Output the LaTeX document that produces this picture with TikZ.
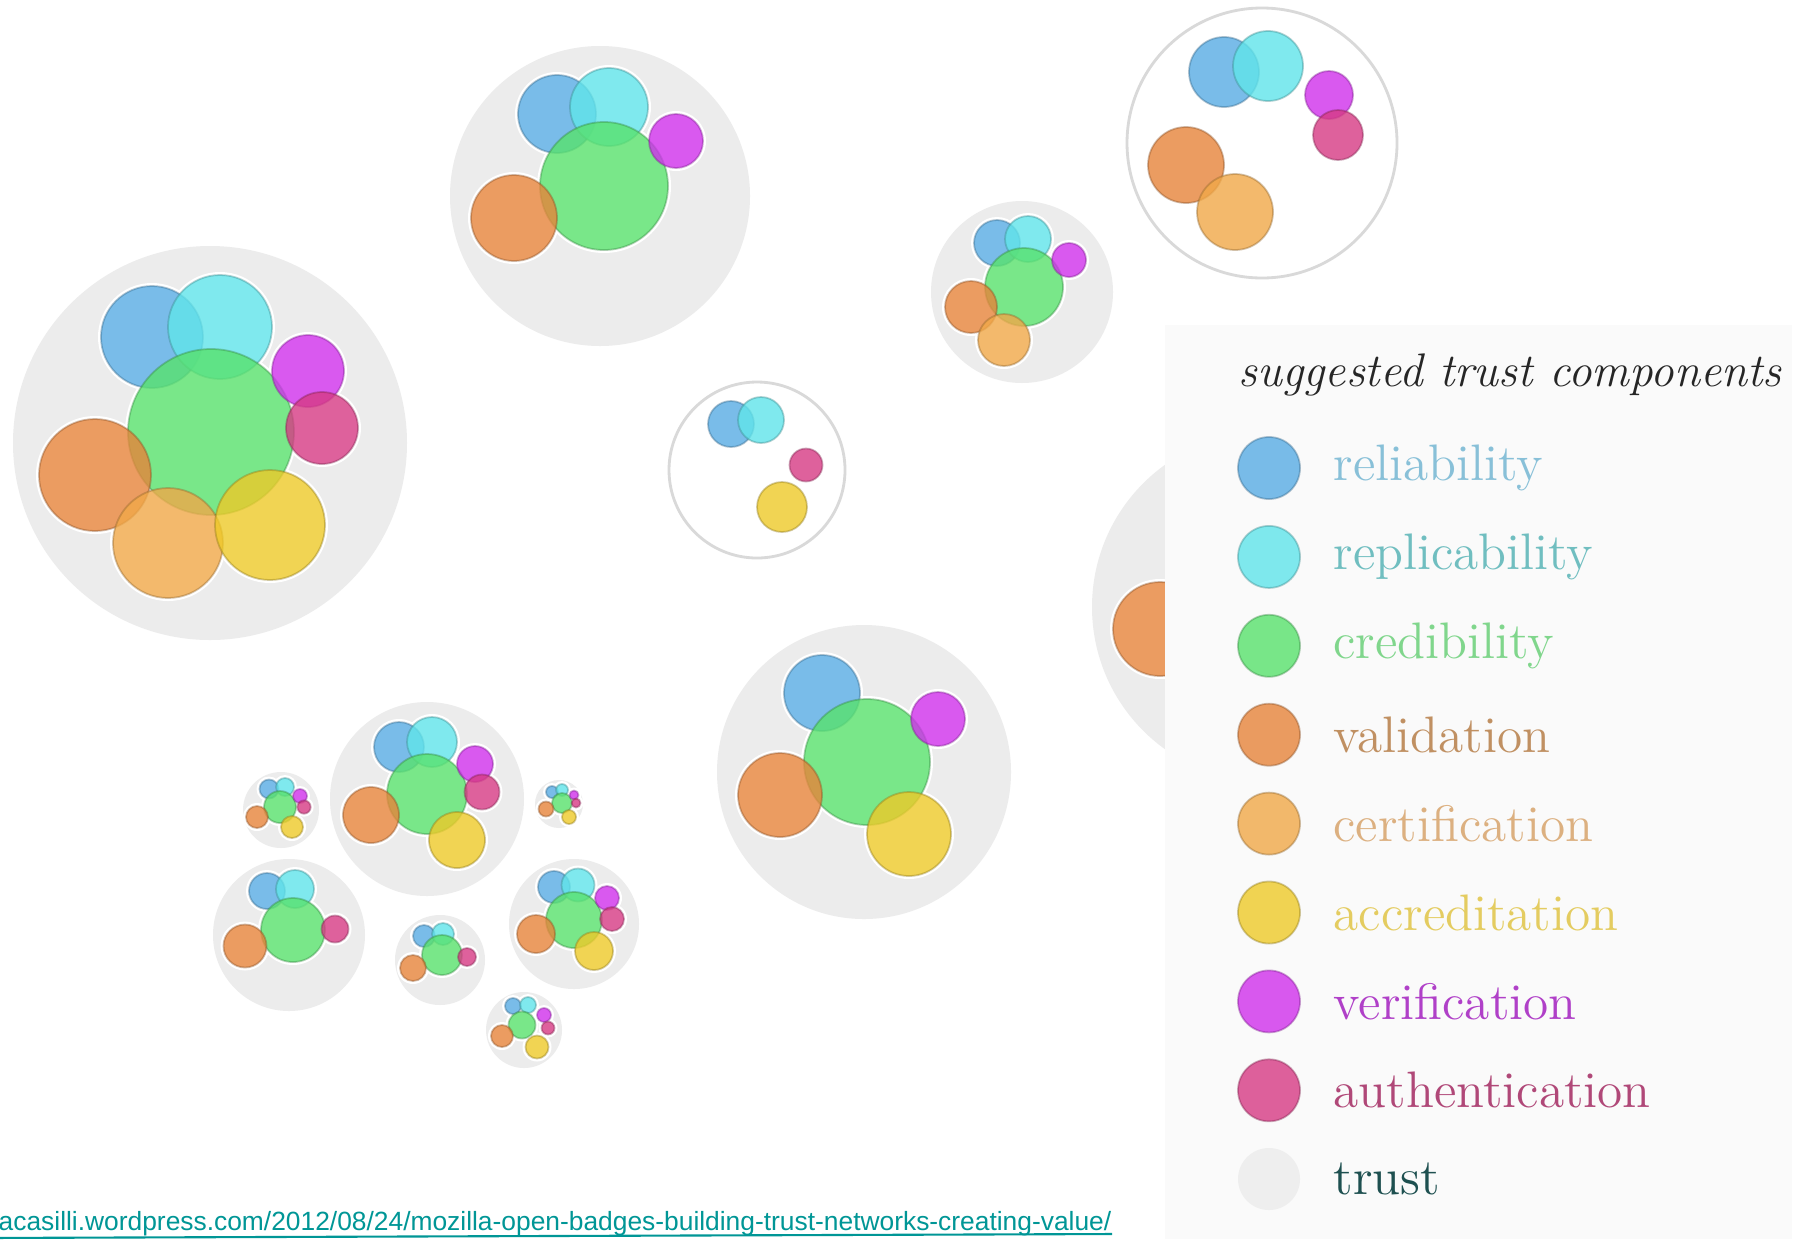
\documentclass[tikz,border=0pt]{standalone}
\usepackage{fontspec}
\newfontfamily\urlfont{Liberation Sans}
\usetikzlibrary{positioning}

% component colours
\definecolor{relC}{RGB}{88,172,228}
\definecolor{repC}{RGB}{96,228,234}
\definecolor{credC}{RGB}{88,226,108}
\definecolor{valC}{RGB}{230,132,58}
\definecolor{certC}{RGB}{240,168,72}
\definecolor{accC}{RGB}{238,202,40}
\definecolor{verC}{RGB}{208,48,236}
\definecolor{autC}{RGB}{214,58,132}
\definecolor{trustC}{RGB}{236,236,236}
% legend text colours
\definecolor{relT}{RGB}{136,192,216}
\definecolor{repT}{RGB}{112,190,192}
\definecolor{credT}{RGB}{128,214,140}
\definecolor{valT}{RGB}{192,144,98}
\definecolor{certT}{RGB}{220,176,128}
\definecolor{accT}{RGB}{228,204,96}
\definecolor{verT}{RGB}{176,64,200}
\definecolor{autT}{RGB}{176,72,120}
\definecolor{truT}{RGB}{30,80,80}
\definecolor{panelC}{RGB}{250,250,250}
\definecolor{linkC}{RGB}{0,150,150}

\tikzset{
  comp/.style={line width=0.5pt, fill opacity=0.8, draw opacity=0.4},
  rel/.style={comp, fill=relC, draw=relC!60!black},
  rep/.style={comp, fill=repC, draw=repC!60!black},
  cred/.style={comp, fill=credC, draw=credC!60!black},
  val/.style={comp, fill=valC, draw=valC!60!black},
  cert/.style={comp, fill=certC, draw=certC!60!black},
  accr/.style={comp, fill=accC, draw=accC!60!black},
  verif/.style={comp, fill=verC, draw=verC!60!black},
  auth/.style={comp, fill=autC, draw=autC!60!black},
  trustfull/.style={fill=trustC},
  trustempty/.style={fill=white, draw=black!15, line width=0.8pt},
}

% x / y / radius / style of every component circle
\def\comps{%
  152/337/51/rel, 220/327/52/rep, 211/432/83/cred, 308/371/36/verif,
  322/428/36/auth, 95/475/56/val, 168/543/55/cert, 270/525/55/accr,
  557/114/39/rel, 609/107/39/rep, 604/186/64/cred, 676/141/27/verif,
  514/218/43/val,
  997/243/23/rel, 1028/239/23/rep, 1024/287/39/cred, 1069/260/17/verif,
  971/307/26/val, 1004/340/26/cert,
  1224/72/35/rel, 1268/66/35/rep, 1329/95/24/verif, 1338/135/25/auth,
  1186/165/38/val, 1235/212/38/cert,
  731/424/23/rel, 761/420/23/rep, 806/465/16.5/auth, 782/507/25/accr,
  822/693/38/rel, 867/762/63/cred, 938/719/27/verif, 780/795/42/val,
  909/834/42/accr,
  1160/629/47/val,
  399/747/25/rel, 432/742/25/rep, 427/794/40/cred, 475/764/18/verif,
  482/792/17.5/auth, 371/815/28/val, 457/840/28/accr,
  269/789/9.5/rel, 285/787/9/rep, 280/807/16/cred, 300/796/7/verif,
  304/807/6.7/auth, 257/817/11/val, 292/827/11/accr,
  552/792/6/rel, 562/790/6/rep, 562/803/10/cred, 574/795/4.5/verif,
  576/803/4.5/auth, 546/809/7.5/val, 569/817/7/accr,
  267/891/18/rel, 295/889/19/rep, 293/930/32/cred, 335/929/13.5/auth,
  245/946/21.5/val,
  424/936/11/rel, 443/934/11/rep, 442/955/20/cred, 467/957/9/auth,
  413/968/13/val,
  554/887/16/rel, 578/885/16.5/rep, 574/920/28/cred, 607/898/12/verif,
  612/919/12/auth, 536/934/19/val, 594/951/19/accr,
  513/1006/8/rel, 528/1005/8/rep, 522/1025/13.5/cred, 544/1015/7/verif,
  548/1028/6.5/auth, 502/1036/11/val, 537/1047/11.5/accr%
}

\begin{document}
\begin{tikzpicture}[x=0.01cm, y=-0.01cm,
  legdot/.style={circle, minimum size=0.62cm, inner sep=0pt, fill opacity=0.85, line width=0.6pt},
  leglab/.style={inner sep=0pt, anchor=west, font=\fontsize{14.6}{16}\selectfont},
]
\useasboundingbox[fill=white] (0,0) rectangle (1798,1239);

% trust circles
\fill[trustfull] (210,443) circle (197);
\fill[trustfull] (600,196) circle (150);
\fill[trustfull] (1022,292) circle (91);
\draw[trustempty] (1262,143) circle (135);
\draw[trustempty] (757,470) circle (88);
\fill[trustfull] (864,772) circle (147);
\fill[trustfull] (1267,607) circle (175);
\fill[trustfull] (427,799) circle (97);
\fill[trustfull] (281,810) circle (38);
\fill[trustfull] (559,804) circle (24);
\fill[trustfull] (289,935) circle (76);
\fill[trustfull] (440,960) circle (45);
\fill[trustfull] (574,924) circle (65);
\fill[trustfull] (524,1030) circle (38);

% white halo round each component, then the components
\foreach \x/\y/\r/\s in \comps
  \fill[white] (\x,\y) circle (\r+3);
\foreach \x/\y/\r/\s in \comps
  \filldraw[style=\s] (\x,\y) circle (\r);

% legend panel
\fill[panelC] (1165,325) rectangle (1792,1239);
\node[anchor=base east, inner sep=0pt, text=black!85,
  font=\fontsize{13.4}{15}\selectfont\itshape] (title) at (1782,386)
  {suggested trust components};

\foreach \s/\t/\c [count=\i] in {rel/reliability/relT, rep/replicability/repT,
    cred/credibility/credT, val/validation/valT, cert/certification/certT,
    accr/accreditation/accT, verif/verification/verT, auth/authentication/autT}{
  \node[legdot, style=\s] (dot\i) at (1269,{468+88.9*(\i-1)}) {};
  \node[leglab, text=\c, right=0.32cm of dot\i] (lab\i) {\t};
}
\node[legdot, fill=trustC] (dot9) at (1269,1179) {};
\node[leglab, text=truT, right=0.32cm of dot9] (lab9) {trust};

% source link
\node[anchor=base west, inner sep=0pt, text=linkC,
  font=\urlfont\fontsize{7.5}{9}\selectfont] (link) at (-2,1230)
  {acasilli.wordpress.com/2012/08/24/mozilla-open-badges-building-trust-networks-creating-value/};
\draw[linkC, line width=0.6pt] (link.south west) ++(0,-0.5pt) -- (link.south east |- 0,1234);
\end{tikzpicture}
\end{document}
